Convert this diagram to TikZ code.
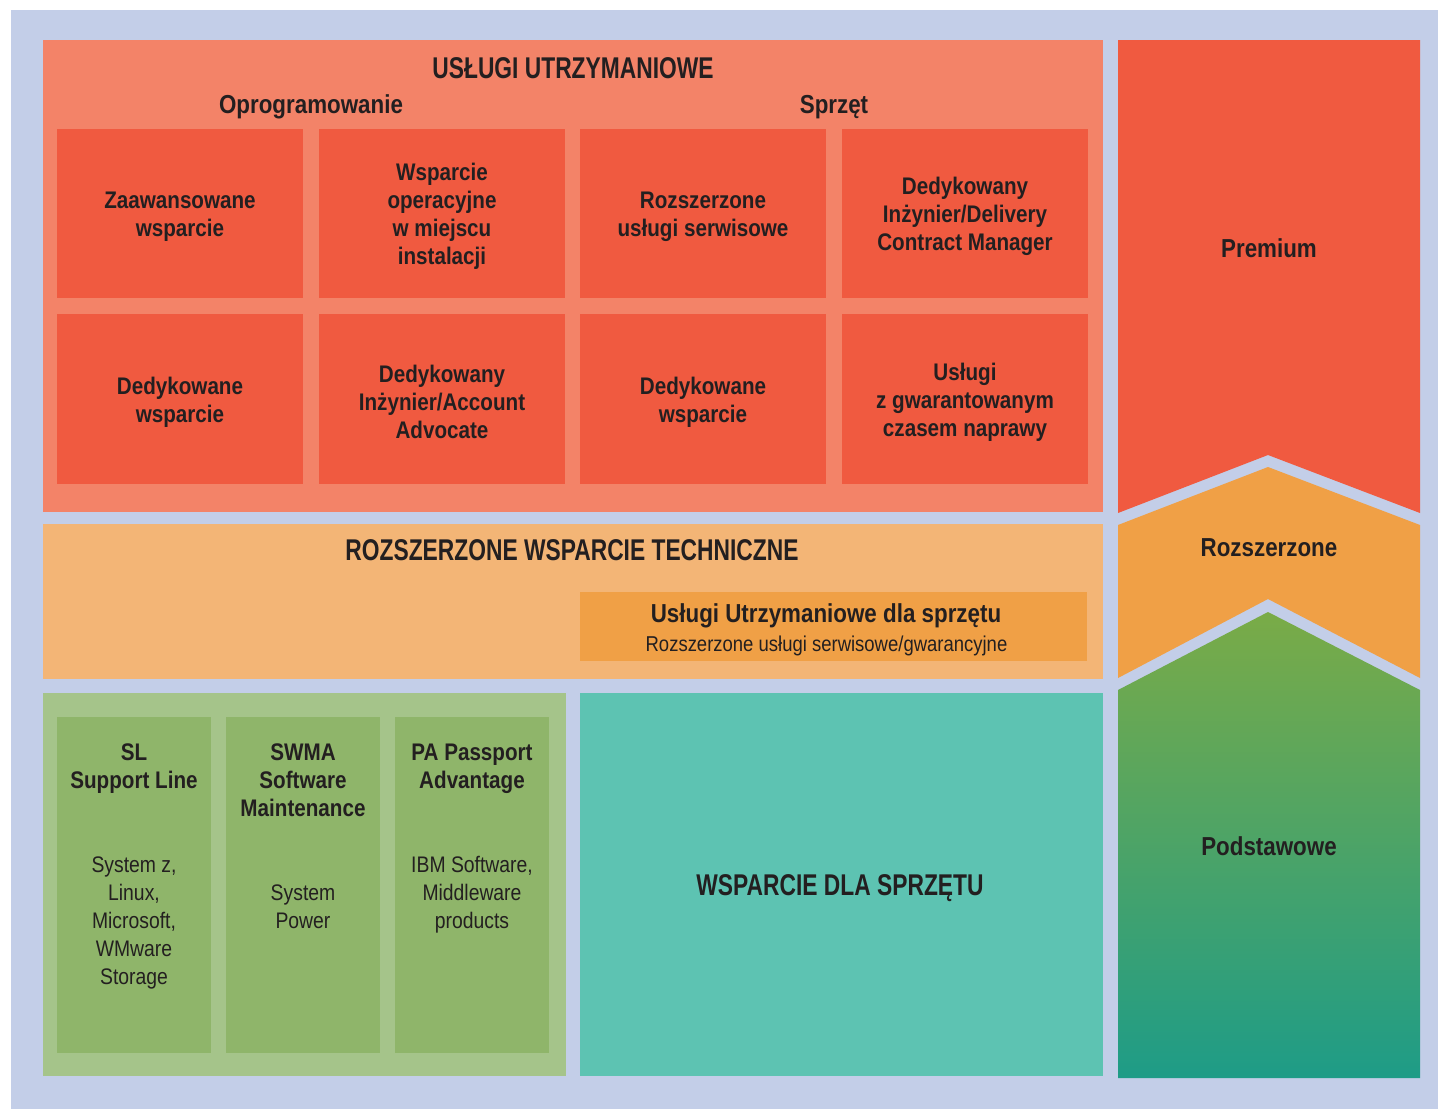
\documentclass[tikz,border=0pt]{standalone}
\usepackage{fontspec}
\setmainfont[FakeStretch=0.86]{Liberation Sans}
\newfontfamily\capsfont[FakeStretch=0.76]{Liberation Sans}

\definecolor{bgblue}{HTML}{C3CEE8}
\definecolor{salmon}{HTML}{F38368}
\definecolor{tilered}{HTML}{F05A40}
\definecolor{sand}{HTML}{F3B576}
\definecolor{amber}{HTML}{F0A046}
\definecolor{sage}{HTML}{A5C48A}
\definecolor{leaf}{HTML}{8FB56A}
\definecolor{teal}{HTML}{5DC3B2}
\definecolor{greentop}{HTML}{7AAB47}
\definecolor{greenbot}{HTML}{1E9C87}
\definecolor{ink}{HTML}{231F20}

\newcommand\headTxt{\capsfont\fontsize{30}{34}\selectfont\bfseries}
\newcommand\subTxt{\fontsize{26}{30}\selectfont\bfseries}
\newcommand\tileTxt{\fontsize{24}{28}\selectfont\bfseries}
\newcommand\bodyTxt{\fontsize{22.5}{28}\selectfont}

\begin{document}
\begin{tikzpicture}[x=1pt,y=-1pt,
  every node/.style={text=ink, inner sep=0pt, outer sep=0pt},
  tile/.style={fill=tilered, minimum width=246pt, minimum height=169.5pt},
  tiletext/.style={align=center, font=\tileTxt, yshift=-3pt},
  head/.style={anchor=base, font=\headTxt},
  sub/.style={anchor=base, font=\subTxt},
  colhead/.style={align=center, font=\tileTxt},
  colbody/.style={align=center, font=\bodyTxt}]

\useasboundingbox (0,0) rectangle (1438,1109);
\fill[white] (0,0) rectangle (1438,1109);
\fill[bgblue] (11,10) rectangle (1438,1109);

% maintenance services panel
\fill[salmon] (43,40) rectangle (1103,512);
\node[head] (uslugi) at (573,78.5) {USŁUGI UTRZYMANIOWE};
\node[sub] (oprog) at (311,113) {Oprogramowanie};
\node[sub] (sprzet) at (834,113) {Sprzęt};

\node[tile] (zaaw)  at (180,213.5) {};
\node[tile] (wspop) at (442,213.5) {};
\node[tile] (rozus) at (703,213.5) {};
\node[tile] (dedel) at (965,213.5) {};
\node[tile] (dedw1) at (180,399) {};
\node[tile] (dedac) at (442,399) {};
\node[tile] (dedw2) at (703,399) {};
\node[tile] (gwar)  at (965,399) {};

\node[tiletext] (zaawT)  at (zaaw)  {Zaawansowane\\wsparcie};
\node[tiletext] (wspopT) at (wspop) {Wsparcie\\operacyjne\\w miejscu\\instalacji};
\node[tiletext] (rozusT) at (rozus) {Rozszerzone\\usługi serwisowe};
\node[tiletext] (dedelT) at (dedel) {Dedykowany\\Inżynier/Delivery\\Contract Manager};
\node[tiletext] (dedw1T) at (dedw1) {Dedykowane\\wsparcie};
\node[tiletext] (dedacT) at (dedac) {Dedykowany\\Inżynier/Account\\Advocate};
\node[tiletext] (dedw2T) at (dedw2) {Dedykowane\\wsparcie};
\node[tiletext] (gwarT)  at (gwar)  {Usługi\\z gwarantowanym\\czasem naprawy};

% extended technical support band
\fill[sand] (43,524) rectangle (1103,679);
\node[head] (rozwt) at (572,560.5) {ROZSZERZONE WSPARCIE TECHNICZNE};
\fill[amber] (580,592) rectangle (1087,661);
\node[sub] (uzs) at (826,622.7) {Usługi Utrzymaniowe dla sprzętu};
\node[anchor=base, font=\fontsize{21.5}{26}\selectfont] (uzsd) at (826.5,651)
  {Rozszerzone usługi serwisowe/gwarancyjne};

% software support columns
\fill[sage] (43,693) rectangle (566,1076);
\fill[leaf] (57,717) rectangle (211,1053);
\fill[leaf] (226,717) rectangle (380,1053);
\fill[leaf] (395,717) rectangle (549,1053);
\node[colhead] (slh)   at (134,768.9) {SL\\Support Line};
\node[colhead] (swmah) at (303,780.4) {SWMA\\Software\\Maintenance};
\node[colhead] (pah)   at (472,768.9) {PA Passport\\Advantage};
\node[colbody] (slb)   at (134,923.2) {System z,\\Linux,\\Microsoft,\\WMware\\Storage};
\node[colbody] (swmab) at (303,906.7) {System\\Power};
\node[colbody] (pab)   at (472,895) {IBM Software,\\Middleware\\products};

% hardware support
\fill[teal] (580,693) rectangle (1103,1076);
\node[head] (wds) at (840,895) {WSPARCIE DLA SPRZĘTU};

% service levels
\fill[tilered] (1118,40) -- (1420,40) -- (1420,513) -- (1268,455) -- (1118,513) -- cycle;
\fill[amber] (1118,525) -- (1268,467) -- (1420,525) -- (1420,678) -- (1268,599) -- (1118,678) -- cycle;
\shade[top color=greentop, bottom color=greenbot]
  (1118,690) -- (1268,612) -- (1420,690) -- (1420,1078) -- (1118,1078) -- cycle;
\node[sub] (prem) at (1269,257) {Premium};
\node[sub] (rozl) at (1269,556) {Rozszerzone};
\node[sub] (podst) at (1269,855) {Podstawowe};

\end{tikzpicture}
\end{document}
